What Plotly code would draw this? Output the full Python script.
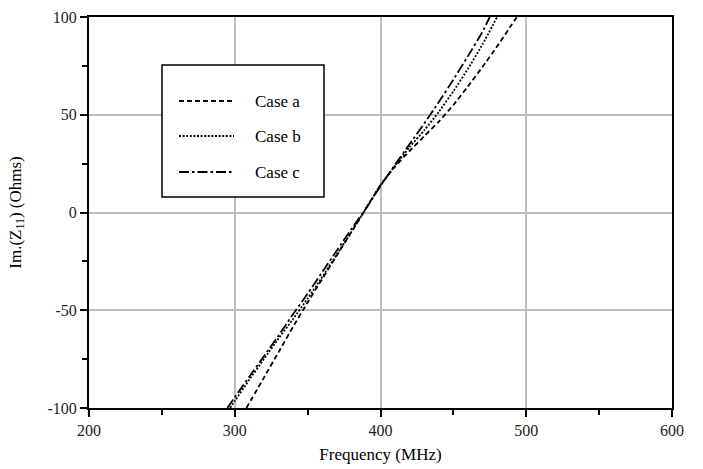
import plotly.graph_objects as go

# ---- data ----
freq_a = [308, 320, 330, 340, 350, 360, 370, 380, 390, 400, 410, 420, 430, 440, 450, 460, 470, 480, 490, 494]
im_a = [-100, -84.5, -71.5, -58.5, -46, -34, -22, -10, 2, 14, 23.5, 31.5, 39, 46.5, 55, 64.5, 74.5, 85, 96, 100.5]

freq_b = [296.8, 300, 310, 320, 330, 340, 350, 360, 370, 380, 390, 400, 410, 420, 430, 440, 450, 460, 470, 480]
im_b = [-100, -96.5, -85.5, -75, -64.5, -54.5, -44, -33, -21.5, -10, 2, 14, 24, 33.5, 42, 51.5, 62, 73.5, 86, 100]

freq_c = [294.9, 300, 310, 320, 330, 340, 350, 360, 370, 380, 390, 400, 410, 420, 430, 440, 450, 460, 470, 475]
im_c = [-100, -94.5, -84, -73.5, -63, -52, -41.5, -30.5, -19.5, -8.5, 2, 13.5, 24.5, 35, 45.5, 56.5, 68, 80, 92.5, 100]

series_names = ["Case a", "Case b", "Case c"]
x_ticks = [200, 300, 400, 500, 600]
y_ticks = [-100, -50, 0, 50, 100]

FONT = "Liberation Serif, Times New Roman, serif"
dashes = ["5px,3px", "2px,1.6px", "10px,3px,2.5px,3px"]

fig = go.Figure()
for fx, fy, name, d in zip([freq_a, freq_b, freq_c], [im_a, im_b, im_c], series_names, dashes):
    fig.add_trace(go.Scatter(x=fx, y=fy, mode="lines", name=name, showlegend=False,
                             line=dict(color="black", width=1.8, dash=d, shape="spline", smoothing=0.5)))

# plot-area geometry in pixels (for legend placement)
L, R, T, B = 89, 672, 17, 408
W, H = R - L, B - T
def px(x):
    return (x - L) / W
def py(y):
    return (B - y) / H

shapes = [dict(type="rect", xref="paper", yref="paper", x0=px(162), x1=px(324), y0=py(197), y1=py(65),
               line=dict(color="black", width=1.5), fillcolor="white", layer="above")]
annotations = []
rows = [101, 136, 172]
for name, d, ry in zip(series_names, dashes, rows):
    shapes.append(dict(type="line", xref="paper", yref="paper", x0=px(179), x1=px(234), y0=py(ry), y1=py(ry),
                       line=dict(color="black", width=1.8, dash=d), layer="above"))
    annotations.append(dict(xref="paper", yref="paper", x=px(253), y=py(ry), text=name, showarrow=False,
                            xanchor="left", yanchor="middle", font=dict(family=FONT, size=17, color="black")))

axis_common = dict(showline=True, linecolor="black", linewidth=2, mirror=True, automargin=False,
                   showgrid=True, gridcolor="#bdbdbd", gridwidth=2, zeroline=False,
                   ticks="outside", ticklen=7, tickwidth=1.5, tickcolor="black",
                   tickfont=dict(family=FONT, size=16, color="#222222"))

fig.update_layout(
    width=703, height=469,
    margin=dict(l=L, r=703 - R, t=T, b=469 - B),
    paper_bgcolor="white", plot_bgcolor="white",
    font=dict(family=FONT, size=16, color="black"),
    xaxis=dict(range=[200, 600], tickvals=x_ticks, ticktext=[str(v) for v in x_ticks],
               minor=dict(dtick=50, ticks="outside", ticklen=5, tickcolor="black", showgrid=False),
               title=dict(text="Frequency (MHz)", font=dict(family=FONT, size=17), standoff=10),
               **axis_common),
    yaxis=dict(range=[-100, 100], tickvals=y_ticks, ticktext=[str(v) for v in y_ticks],
               minor=dict(dtick=25, ticks="outside", ticklen=5, tickcolor="black", showgrid=False),
               title=dict(text="Im.(Z<sub>11</sub>) (Ohms)", font=dict(family=FONT, size=17), standoff=22),
               **axis_common),
    shapes=shapes,
    annotations=annotations,
)

fig.write_html("out.html")
